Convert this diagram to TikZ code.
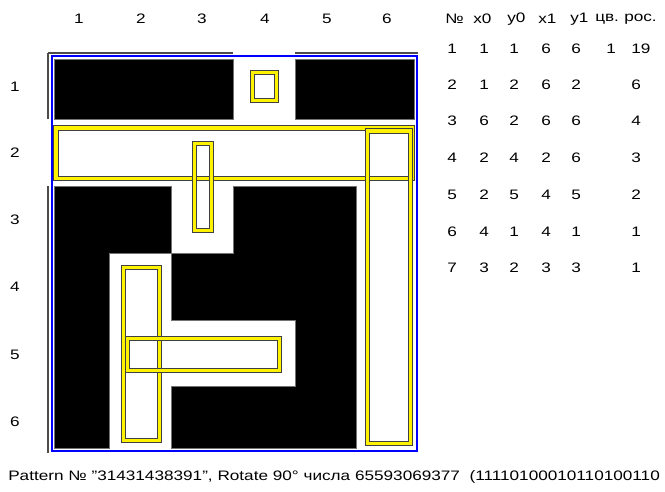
\documentclass[tikz,border=0pt]{standalone}
\usepackage{fontspec}
\setmainfont[FakeStretch=1.25]{Liberation Sans}
\begin{document}
\begin{tikzpicture}[x=0.75pt,y=-0.75pt,
  lbl/.style={font=\fontsize{10.3pt}{12pt}\selectfont, inner sep=0pt},
  blk/.style={fill=black, draw=black!55, line width=0.5pt},
  frm/.style={draw=black!70, line width=1.5pt},
  sel/.style={draw=black!75, line width=0.8pt, double=yellow, double distance=2.3pt},
  brd/.style={draw=blue, line width=1.1pt}]
\useasboundingbox (0,0) rectangle (665,492);
% column and row labels
\foreach \x/\t in {79/1,141/2,202/3,265/4,327/5,387/6}
  \node[lbl] (c\t) at (\x,19) {\t};
\foreach \y/\t in {87/1,153/2,220/3,287/4,355/5,422/6}
  \node[lbl] (r\t) at (15,\y) {\t};
% black cells
\path[blk] (54,59) rectangle (233.3,119.5);
\path[blk] (295,59) rectangle (414,119.5);
\path[blk] (54,186.3) -- (171.7,186.3) -- (171.7,253) -- (109.5,253) -- (109.5,448) -- (54,448) -- cycle;
\path[blk] (233.3,186.3) -- (356.7,186.3) -- (356.7,448) -- (171.7,448) -- (171.7,386.5)
  -- (295,386.5) -- (295,320) -- (171.7,320) -- (171.7,253) -- (233.3,253) -- cycle;
% gray frame pieces
\draw[frm] (48,53) -- (233.3,53);
\draw[frm] (295,53) -- (418,53);
\draw[frm] (48,53) -- (48,119.5);
\draw[frm] (48,186) -- (48,453);
% blue border (region 1)
\draw[brd] (52,56) rectangle (417,451);
% regions
\draw[sel] (56,128) rectangle (412.5,178.3);
\draw[sel] (367.5,131) rectangle (410.2,443.5);
\draw[sel] (123.5,267.5) rectangle (159.2,440.2);
\draw[sel] (127.5,338.2) rectangle (279.8,370.2);
\draw[sel] (252.8,72.8) rectangle (276.8,100.5);
\draw[sel] (194.2,143.2) rectangle (211.8,230.2);
% table
\foreach \x/\t/\n in {445/{№}/h1,473/x0/h2,507/y0/h3,538/x1/h4,570/y1/h5,595/{цв.}/h6,624/{рос.}/h7}
  \node[lbl,anchor=west] (\n) at (\x,19) {\t};
\foreach \y/\r [count=\i] in {49/{1,1,1,6,6,1,19},85/{2,1,2,6,2,,6},121/{3,6,2,6,6,,4},158/{4,2,4,2,6,,3},195/{5,2,5,4,5,,2},232/{6,4,1,4,1,,1},268/{7,3,2,3,3,,1}}{
  \foreach \v [count=\j] in \r {
    \pgfmathsetmacro{\xx}{{447,479,509,541,571,606,631}[\j-1]}
    \node[lbl,anchor=west] (t\i-\j) at (\xx,\y) {\v};
  }
}
\node[lbl,anchor=west] (foot) at (8,477) {Pattern № "31431438391", Rotate 90° числа 65593069377\ \ (11110100010110100110};
\end{tikzpicture}
\end{document}
